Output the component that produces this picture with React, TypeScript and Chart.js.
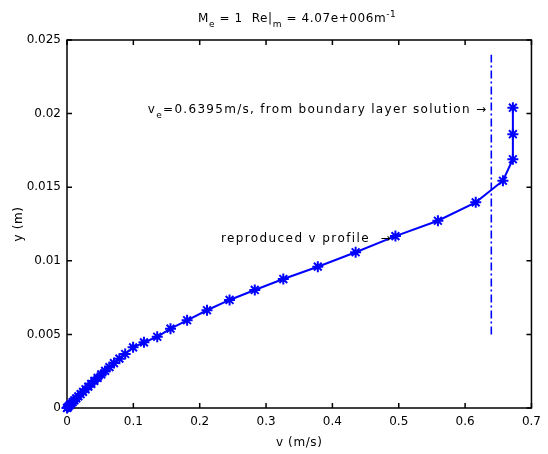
import React, { useEffect, useRef } from "react";
import { Chart, registerables } from "chart.js";
Chart.register(...registerables);

// ---- data ----
const vProfile = [0, 0.0006, 0.0021, 0.004, 0.0061, 0.0085, 0.0111, 0.014, 0.0171, 0.0205, 0.0241, 0.0279, 0.0321, 0.0365, 0.0412, 0.0462, 0.0517, 0.0575, 0.064, 0.0708, 0.079, 0.0877, 0.0996, 0.116, 0.136, 0.156, 0.181, 0.211, 0.245, 0.283, 0.326, 0.378, 0.435, 0.495, 0.559, 0.616, 0.657, 0.672, 0.672, 0.672];
const yProfile = [0, 0.00003, 0.0001, 0.00019, 0.00029, 0.0004, 0.00052, 0.00065, 0.00079, 0.00094, 0.0011, 0.00127, 0.00145, 0.00164, 0.00184, 0.00205, 0.00228, 0.00252, 0.00278, 0.00305, 0.00335, 0.00367, 0.00412, 0.00446, 0.00484, 0.00539, 0.00596, 0.00664, 0.00734, 0.00802, 0.00876, 0.0096, 0.01058, 0.01168, 0.01272, 0.01397, 0.01544, 0.0169, 0.0186, 0.0204];

const edgeV = [0.6395, 0.6395];
const edgeY = [0.005, 0.024];

const xTicks = [0, 0.1, 0.2, 0.3, 0.4, 0.5, 0.6, 0.7];
const xTickLabels = ["0", "0.1", "0.2", "0.3", "0.4", "0.5", "0.6", "0.7"];
const yTicks = [0, 0.005, 0.01, 0.015, 0.02, 0.025];
const yTickLabels = ["0", "0.005", "0.01", "0.015", "0.02", "0.025"];

const xLabel = "v (m/s)";
const yLabel = "y (m)";

// annotation anchors in data units (right end of text, baseline)
const veNoteAnchor = [0.6335, 0.02004];
const profNoteAnchor = [0.4897, 0.01128];

const FONT = "'DejaVu Sans', sans-serif";
const BLUE = "#0000ff";

type Part = { t: string; s: number; dy: number };

function drawParts(ctx: CanvasRenderingContext2D, parts: Part[], x: number, y: number, align: "left" | "center" | "right", spacing: number) {
  ctx.save();
  (ctx as any).letterSpacing = spacing + "px";
  ctx.textBaseline = "alphabetic";
  ctx.textAlign = "left";
  const widths = parts.map((p) => {
    ctx.font = `${p.s}px ${FONT}`;
    return ctx.measureText(p.t).width;
  });
  const total = widths.reduce((a, b) => a + b, 0);
  let cx = align === "left" ? x : align === "center" ? x - total / 2 : x - total;
  parts.forEach((p, i) => {
    ctx.font = `${p.s}px ${FONT}`;
    ctx.fillText(p.t, cx, y + p.dy);
    cx += widths[i];
  });
  ctx.restore();
}

const framePlugin = {
  id: "matlabFrame",
  beforeDatasetsDraw(chart: any) {
    const { ctx, chartArea: a, scales } = chart;
    ctx.save();
    ctx.strokeStyle = "#000";
    ctx.lineWidth = 1.5;
    ctx.strokeRect(a.left, a.top, a.right - a.left, a.bottom - a.top);
    const tl = 5;
    ctx.beginPath();
    xTicks.forEach((v) => {
      const px = scales.x.getPixelForValue(v);
      ctx.moveTo(px, a.bottom);
      ctx.lineTo(px, a.bottom - tl);
      ctx.moveTo(px, a.top);
      ctx.lineTo(px, a.top + tl);
    });
    yTicks.forEach((v) => {
      const py = scales.y.getPixelForValue(v);
      ctx.moveTo(a.left, py);
      ctx.lineTo(a.left + tl, py);
      ctx.moveTo(a.right, py);
      ctx.lineTo(a.right - tl, py);
    });
    ctx.stroke();
    ctx.restore();
  },
  afterDraw(chart: any) {
    const { ctx, chartArea: a, scales } = chart;
    ctx.save();
    ctx.fillStyle = "#000";
    const cxm = (a.left + a.right) / 2;
    // title
    drawParts(
      ctx,
      [
        { t: "M", s: 12, dy: 0 },
        { t: "e", s: 9, dy: 5 },
        { t: " = 1  Re|", s: 12, dy: 0 },
        { t: "m", s: 9, dy: 5 },
        { t: " = 4.07e+006m", s: 12, dy: 0 },
        { t: "-1", s: 9, dy: -5 },
      ],
      cxm - 2,
      22,
      "center",
      0.6
    );
    // axis titles
    drawParts(ctx, [{ t: xLabel, s: 12, dy: 0 }], cxm, 446, "center", 0.6);
    ctx.save();
    ctx.translate(22, (a.top + a.bottom) / 2);
    ctx.rotate(-Math.PI / 2);
    drawParts(ctx, [{ t: yLabel, s: 12, dy: 0 }], 0, 0, "center", 0.6);
    ctx.restore();
    // annotations
    const vx = scales.x.getPixelForValue(veNoteAnchor[0]);
    const vy = scales.y.getPixelForValue(veNoteAnchor[1]);
    drawParts(
      ctx,
      [
        { t: "v", s: 12, dy: 0 },
        { t: "e", s: 9, dy: 5 },
        { t: "=0.6395m/s, from boundary layer solution \u2192", s: 12, dy: 0 },
      ],
      vx,
      vy,
      "right",
      1.3
    );
    const px = scales.x.getPixelForValue(profNoteAnchor[0]);
    const py = scales.y.getPixelForValue(profNoteAnchor[1]);
    drawParts(ctx, [{ t: "reproduced v profile  \u2192", s: 12, dy: 0 }], px, py, "right", 1.4);
    ctx.restore();
  },
};

export default function App() {
  const ref = useRef<HTMLCanvasElement | null>(null);
  useEffect(() => {
    if (!ref.current) return;
    const tickFont = { family: FONT, size: 12 };
    const chart = new Chart(ref.current, {
      type: "scatter",
      data: {
        datasets: [
          {
            data: vProfile.map((v, i) => ({ x: v, y: yProfile[i] })),
            showLine: true,
            borderColor: BLUE,
            backgroundColor: BLUE,
            borderWidth: 2,
            pointStyle: "star",
            pointRadius: 5.5,
            pointBorderWidth: 2,
            pointBorderColor: BLUE,
            tension: 0,
            clip: false,
          } as any,
          {
            data: edgeV.map((v, i) => ({ x: v, y: edgeY[i] })),
            showLine: true,
            borderColor: BLUE,
            borderWidth: 1.6,
            borderDash: [8, 3, 2, 3],
            pointRadius: 0,
            tension: 0,
          } as any,
        ],
      },
      options: {
        responsive: false,
        animation: false,
        events: [],
        layout: { padding: { left: 0, right: 11, top: 40, bottom: 0 } },
        plugins: { legend: { display: false }, tooltip: { enabled: false }, title: { display: false } },
        scales: {
          x: {
            type: "linear",
            min: 0,
            max: 0.7,
            afterBuildTicks: (s: any) => {
              s.ticks = xTicks.map((v) => ({ value: v }));
            },
            afterFit: (s: any) => {
              s.height = 46;
            },
            ticks: {
              callback: (_v: any, i: number) => xTickLabels[i],
              font: tickFont,
              color: "#000",
              padding: 7,
              maxRotation: 0,
              autoSkip: false,
            },
            grid: { display: false, drawTicks: false },
            border: { display: false },
          },
          y: {
            type: "linear",
            min: 0,
            max: 0.025,
            afterBuildTicks: (s: any) => {
              s.ticks = yTicks.map((v) => ({ value: v }));
            },
            afterFit: (s: any) => {
              s.width = 67;
            },
            ticks: {
              callback: (_v: any, i: number) => yTickLabels[i],
              font: tickFont,
              color: "#000",
              padding: 6,
              autoSkip: false,
            },
            grid: { display: false, drawTicks: false },
            border: { display: false },
          },
        },
      } as any,
      plugins: [framePlugin],
    });
    return () => chart.destroy();
  }, []);
  return (
    <div style={{ position: "fixed", left: 0, top: 0, width: 548, height: 454, background: "#fff" }}>
      <canvas ref={ref} width={548} height={454} style={{ width: 548, height: 454, display: "block" }} />
    </div>
  );
}
